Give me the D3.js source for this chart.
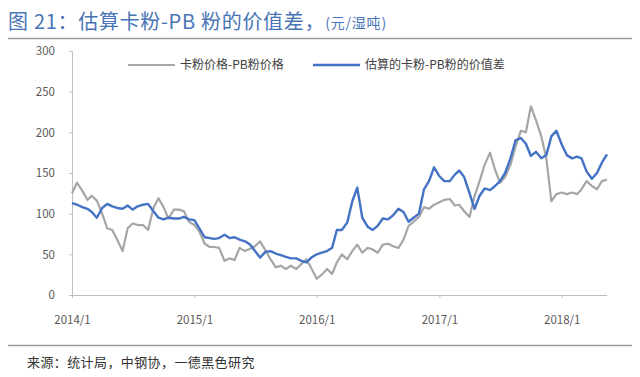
<!DOCTYPE html>
<html><head><meta charset="utf-8">
<script src="https://cdn.jsdelivr.net/npm/d3@7"></script>
<style>
html,body{margin:0;padding:0;background:#fff;}
text{font-family:"Noto Sans CJK SC","Noto Sans",sans-serif;}
</style></head>
<body><svg id="c" width="640" height="377"></svg>
<script>
const dates = [
"2014-01-01","2014-01-16","2014-02-01","2014-02-16","2014-03-01","2014-03-16","2014-04-01","2014-04-16","2014-05-01","2014-05-16","2014-06-01","2014-06-16",
"2014-07-01","2014-07-16","2014-08-01","2014-08-16","2014-09-01","2014-09-16","2014-10-01","2014-10-16","2014-11-01","2014-11-16","2014-12-01","2014-12-16",
"2015-01-01","2015-01-16","2015-02-01","2015-02-16","2015-03-01","2015-03-16","2015-04-01","2015-04-16","2015-05-01","2015-05-16","2015-06-01","2015-06-16",
"2015-07-01","2015-07-16","2015-08-01","2015-08-16","2015-09-01","2015-09-16","2015-10-01","2015-10-16","2015-11-01","2015-11-16","2015-12-01","2015-12-16",
"2016-01-01","2016-01-16","2016-02-01","2016-02-16","2016-03-01","2016-03-16","2016-04-01","2016-04-16","2016-05-01","2016-05-16","2016-06-01","2016-06-16",
"2016-07-01","2016-07-16","2016-08-01","2016-08-16","2016-09-01","2016-09-16","2016-10-01","2016-10-16","2016-11-01","2016-11-16","2016-12-01","2016-12-16",
"2017-01-01","2017-01-16","2017-02-01","2017-02-16","2017-03-01","2017-03-16","2017-04-01","2017-04-16","2017-05-01","2017-05-16","2017-06-01","2017-06-16",
"2017-07-01","2017-07-16","2017-08-01","2017-08-16","2017-09-01","2017-09-16","2017-10-01","2017-10-16","2017-11-01","2017-11-16","2017-12-01","2017-12-16",
"2018-01-01","2018-01-16","2018-02-01","2018-02-16","2018-03-01","2018-03-16","2018-04-01","2018-04-16","2018-05-01","2018-05-16"];

// 卡粉价格-PB粉价格
const priceSpread = [
125,138,128,117,122,116,100,82,80,68,54,82,88,86,86,80,107,119,108,94,105,105,103,90,
86,78,63,59,59,58,42,45,43,58,54,57,60,66,55,44,34,36,32,36,32,38,44,33,
20,25,32,26,40,50,44,54,62,52,58,56,52,62,63,60,58,68,85,90,96,108,106,111,
114,117,118,110,111,103,96,122,140,160,175,154,138,145,160,182,202,200,232,215,195,168,115,124,
126,124,126,124,130,140,134,130,140,142];

// 估算的卡粉-PB粉的价值差
const valueSpread = [
113,111,108,106,102,95,107,112,109,107,106,110,105,109,111,112,103,95,93,95,94,94,96,93,
92,82,71,70,69,70,74,70,71,68,66,62,54,46,53,54,51,49,47,45,45,42,40,46,
50,52,54,58,80,80,89,115,132,95,84,80,85,94,93,98,106,102,90,95,100,130,140,157,
146,140,140,148,153,145,125,106,122,131,129,134,140,150,168,190,193,186,171,176,168,172,195,202,
185,172,168,170,168,152,143,150,163,173];

const yTicks = [0,50,100,150,200,250,300];
const xTickDates = ["2014-01-01","2015-01-01","2016-01-01","2017-01-01","2018-01-01"];
const xTickLabels = ["2014/1","2015/1","2016/1","2017/1","2018/1"];
const legendLabels = ["卡粉价格-PB粉价格","估算的卡粉-PB粉的价值差"];

const parse = d3.timeParse("%Y-%m-%d");
const svg = d3.select("#c");

// Title
const title = svg.append("text").attr("x",8).attr("y",29)
  .attr("fill","#4874b6").attr("font-size",20);
title.append("tspan").attr("letter-spacing",0.7).text("图 21：估算卡粉-PB 粉的价值差，");
title.append("tspan").attr("font-size",14).attr("letter-spacing",0.8).attr("dy",-1).text("(元/湿吨)");
svg.append("line").attr("x1",8).attr("x2",632).attr("y1",38.5).attr("y2",38.5)
  .attr("stroke","#9a9a9a").attr("stroke-width",1.5);

const x = d3.scaleTime().domain([parse("2014-01-01"), parse("2018-05-16")]).range([72,607]);
const y = d3.scaleLinear().domain([0,300]).range([295,51]);

// y axis
const ya = svg.append("g").attr("transform","translate(72,0)")
  .call(d3.axisLeft(y).tickValues(yTicks).tickSize(3).tickPadding(14));
ya.select(".domain").attr("stroke","#bfbfbf");
ya.selectAll(".tick line").attr("stroke","#bfbfbf");
ya.selectAll("text").attr("fill","#595959").attr("font-size",11.5)
  .attr("font-family","'Liberation Sans',Arial,sans-serif");

// x axis
const xa = svg.append("g").attr("transform","translate(0,295)")
  .call(d3.axisBottom(x).tickValues(xTickDates.map(parse)).tickSize(3).tickPadding(18)
    .tickFormat((d,i)=>xTickLabels[i]));
xa.select(".domain").attr("stroke","#bfbfbf").attr("d","M72,0.5H607");
xa.selectAll(".tick line").attr("stroke","#bfbfbf");
xa.selectAll("text").attr("fill","#595959").attr("font-size",11.5)
  .attr("font-family","'Liberation Sans',Arial,sans-serif");

const line = d3.line().x((d,i)=>x(parse(dates[i]))).y(d=>y(d));
svg.append("path").datum(priceSpread).attr("d",line)
  .attr("fill","none").attr("stroke","#a6a6a6").attr("stroke-width",2.2).attr("stroke-linejoin","round");
svg.append("path").datum(valueSpread).attr("d",line)
  .attr("fill","none").attr("stroke","#4472c4").attr("stroke-width",2.4).attr("stroke-linejoin","round");

// Legend
const lg = [{x:128,c:"#a6a6a6",w:2.2},{x:313,c:"#4472c4",w:2.4}];
lg.forEach((l,i)=>{
  svg.append("line").attr("x1",l.x).attr("x2",l.x+47).attr("y1",65).attr("y2",65)
    .attr("stroke",l.c).attr("stroke-width",l.w);
  svg.append("text").attr("x",l.x+52).attr("y",69).attr("font-size",12)
    .attr("fill","#404040").text(legendLabels[i]);
});

// Source
svg.append("line").attr("x1",8).attr("x2",632).attr("y1",345.5).attr("y2",345.5)
  .attr("stroke","#9a9a9a").attr("stroke-width",1.5);
svg.append("text").attr("x",27).attr("y",367).attr("font-size",13).attr("letter-spacing",0.4)
  .attr("fill","#333").text("来源：统计局，中钢协，一德黑色研究");
</script></body></html>
